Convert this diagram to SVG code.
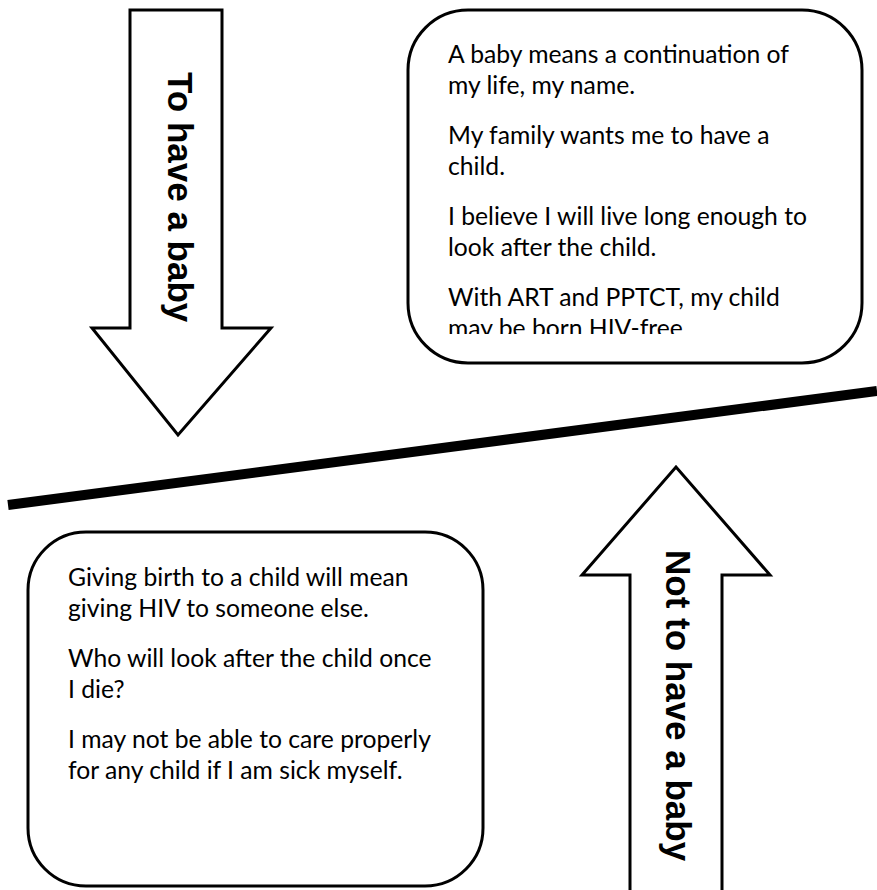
<svg xmlns="http://www.w3.org/2000/svg" width="877" height="890" viewBox="0 0 877 890">
<style>
.shape{fill:#fff;stroke:#000;stroke-width:3;stroke-linejoin:miter}
.box{fill:#fff;stroke:#000;stroke-width:3}
.lbl{font-family:"Liberation Sans",Arial,sans-serif;font-weight:bold;font-size:35px;fill:#000}
.body{font-family:Lato,"Open Sans",sans-serif;font-size:24.7px;fill:#000}
</style>
<defs>
<clipPath id="clipTop"><rect x="408" y="10" width="454" height="324"/></clipPath>
</defs>
<rect width="877" height="890" fill="#fff"/>

<g id="arrow-to-have-a-baby">
<path class="shape" d="M130,10 H222 V328 H271 L178,435 L92,328 H130 Z"/>
<text class="lbl" transform="translate(168,72) rotate(90)">To have a baby</text>
</g>

<g id="box-reasons-for">
<rect class="box" x="408" y="10" width="454" height="353" rx="60" ry="60"/>
<g clip-path="url(#clipTop)" class="body">
<text x="448" y="63">A baby means a continuation of</text>
<text x="448" y="94">my life, my name.</text>
<text x="448" y="144">My family wants me to have a</text>
<text x="448" y="175">child.</text>
<text x="448" y="225">I believe I will live long enough to</text>
<text x="448" y="256">look after the child.</text>
<text x="448" y="306">With ART and PPTCT, my child</text>
<text x="448" y="337">may be born HIV-free</text>
</g>
</g>

<g id="connectors">
<line x1="8" y1="505" x2="877" y2="391" stroke="#000" stroke-width="10"/>
</g>

<g id="box-reasons-against">
<rect class="box" x="28" y="532" width="455" height="354" rx="58" ry="58"/>
<g class="body">
<text x="68" y="586">Giving birth to a child will mean</text>
<text x="68" y="617">giving HIV to someone else.</text>
<text x="68" y="667">Who will look after the child once</text>
<text x="68" y="698">I die?</text>
<text x="68" y="748">I may not be able to care properly</text>
<text x="68" y="779">for any child if I am sick myself.</text>
</g>
</g>

<g id="arrow-not-to-have-a-baby">
<path class="shape" d="M630,890 V575 H582 L676,467 L770,575 H722 V890"/>
<text class="lbl" transform="translate(666,550) rotate(90)">Not to have a baby</text>
</g>
</svg>
